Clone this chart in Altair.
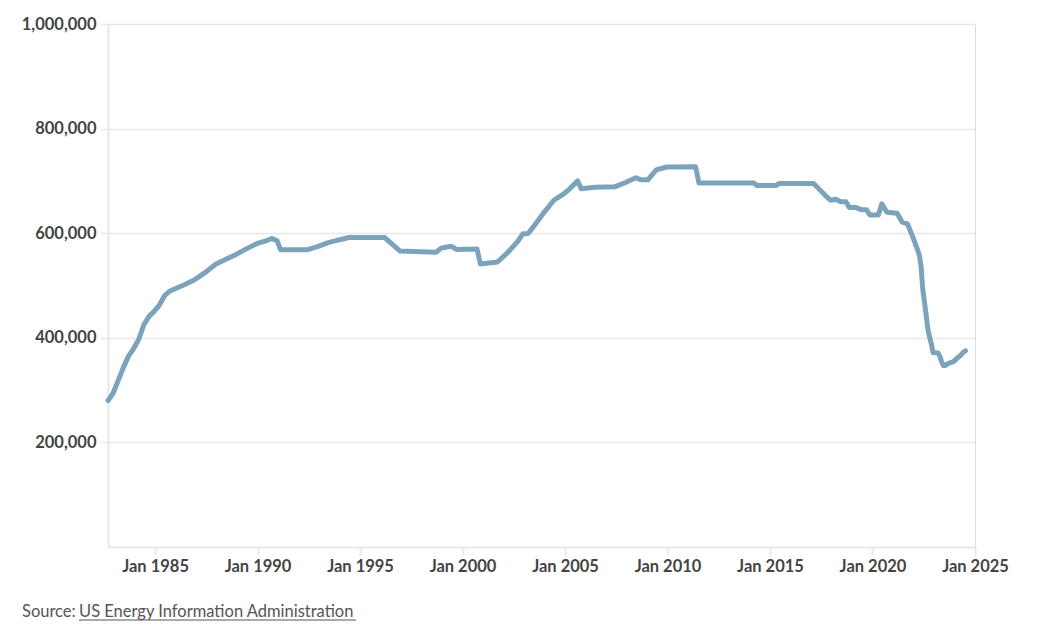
import altair as alt
import pandas as pd

months = [
    "1982-09", "1982-12", "1983-03", "1983-06", "1983-09", "1983-12",
    "1984-03", "1984-06", "1984-09", "1984-12", "1985-03", "1985-06",
    "1985-09", "1985-12", "1986-06", "1986-12", "1987-06", "1987-12",
    "1988-06", "1988-12", "1989-06", "1989-12", "1990-06", "1990-09",
    "1990-12", "1991-02", "1992-06", "1992-12", "1993-06", "1993-12",
    "1994-06", "1996-03", "1996-06", "1996-12", "1998-09", "1998-12",
    "1999-06", "1999-09", "2000-09", "2000-11", "2001-09", "2002-03",
    "2002-09", "2002-12", "2003-03", "2003-06", "2003-12", "2004-06",
    "2004-12", "2005-03", "2005-08", "2005-10", "2006-06", "2007-06",
    "2007-12", "2008-06", "2008-09", "2009-01", "2009-06", "2009-12",
    "2011-05", "2011-07", "2014-03", "2014-05", "2015-04", "2015-06",
    "2017-02", "2017-06", "2017-09", "2017-12", "2018-03", "2018-06",
    "2018-09", "2018-11", "2019-03", "2019-06", "2019-09", "2019-11",
    "2020-04", "2020-06", "2020-09", "2021-03", "2021-06", "2021-09",
    "2021-12", "2022-03", "2022-04", "2022-05", "2022-06", "2022-07",
    "2022-08", "2022-09", "2022-10", "2022-11", "2022-12", "2023-03",
    "2023-04", "2023-05", "2023-06", "2023-07", "2023-09", "2023-12",
    "2024-02", "2024-04", "2024-06", "2024-07",
]
reserve = [
    280000, 294000, 318000, 343000, 365000, 379000,
    397000, 425000, 441000, 450500, 462000, 480000,
    489000, 493300, 502000, 511600, 525000, 540600,
    550000, 559500, 570000, 579900, 586000, 590000,
    585700, 568500, 568500, 574700, 582000, 587100,
    591700, 591600, 583000, 565800, 563400, 571400,
    575000, 569000, 570000, 541000, 545000, 563000,
    585000, 599100, 599500, 612000, 638400, 663000,
    675600, 684000, 700000, 685000, 688000, 689000,
    696900, 706000, 702000, 702000, 721000, 726600,
    727000, 696000, 696000, 691000, 691000, 695100,
    695100, 682000, 672000, 663000, 665000, 660000,
    660000, 649000, 649000, 645000, 645000, 635000,
    635000, 656000, 640000, 638000, 621000, 618000,
    594000, 568000, 558000, 538000, 493000, 469000,
    443000, 416000, 401000, 389000, 372000, 371000,
    365000, 355000, 347000, 346800, 351000, 354400,
    361000, 366000, 373000, 375000,
]
y_ticks = [200000, 400000, 600000, 800000, 1000000]
x_tick_years = [1985, 1990, 1995, 2000, 2005, 2010, 2015, 2020, 2025]
source_prefix = "Source: "
source_link = "US Energy Information Administration"

df = pd.DataFrame({"date": [m + "-15" for m in months], "value": reserve})

FONT = "Lato"
LABEL = "#444444"
GRID = "#e8e8e8"

line = alt.Chart(df).mark_line(
    color="#7ca3bc", strokeWidth=5, strokeJoin="round", strokeCap="round"
).encode(
    x=alt.X(
        "date:T",
        title=None,
        scale=alt.Scale(
            type="utc",
            domain=[alt.DateTime(year=1982, month=9, date=15, utc=True),
                    alt.DateTime(year=2025, month=1, date=1, utc=True)],
        ),
        axis=alt.Axis(
            values=[alt.DateTime(year=y, month=1, date=1, utc=True) for y in x_tick_years],
            format="%b %Y",
            grid=False,
            domainColor=GRID,
            domainWidth=2,
            tickColor=GRID,
            tickWidth=2,
            tickSize=8,
            labelPadding=3,
            labelFlush=False,
            labelOverlap=False,
            labelBound=False,
            labelFont=FONT,
            labelFontSize=16.5,
            labelFontWeight="bold",
            labelColor=LABEL,
        ),
    ),
    y=alt.Y(
        "value:Q",
        title=None,
        scale=alt.Scale(domain=[0, 1000000], nice=False),
        axis=alt.Axis(
            values=y_ticks,
            format=",d",
            grid=True,
            gridColor=GRID,
            gridWidth=1.5,
            domainColor=GRID,
            domainWidth=2,
            tickColor=GRID,
            tickWidth=1.5,
            tickSize=8,
            labelPadding=4,
            labelFlush=False,
            labelOverlap=False,
            labelFont=FONT,
            labelFontSize=16.5,
            labelFontWeight="bold",
            labelColor=LABEL,
        ),
    ),
)

src1 = alt.Chart(pd.DataFrame({"t": [source_prefix]})).mark_text(
    align="left", baseline="alphabetic", font=FONT, fontSize=16.5, color="#555555"
).encode(x=alt.value(-86), y=alt.value(593), text="t:N")

src2 = alt.Chart(pd.DataFrame({"t": [source_link]})).mark_text(
    align="left", baseline="alphabetic", font=FONT, fontSize=16.5, color="#555555"
).encode(x=alt.value(-29), y=alt.value(593), text="t:N")

underline = alt.Chart(pd.DataFrame({"t": [source_link]})).mark_rule(
    color="#555555", strokeWidth=1
).encode(x=alt.value(-29), x2=alt.value(248), y=alt.value(596))

chart = alt.layer(line, src1, src2, underline).properties(
    width=867,
    height=523,
    padding={"left": 108, "top": 24, "right": 71, "bottom": 81},
    autosize=alt.AutoSizeParams(type="none"),
).configure_view(stroke=None).configure(background="white")

chart.save("out.html", embed_options={"renderer": "svg", "actions": False})
